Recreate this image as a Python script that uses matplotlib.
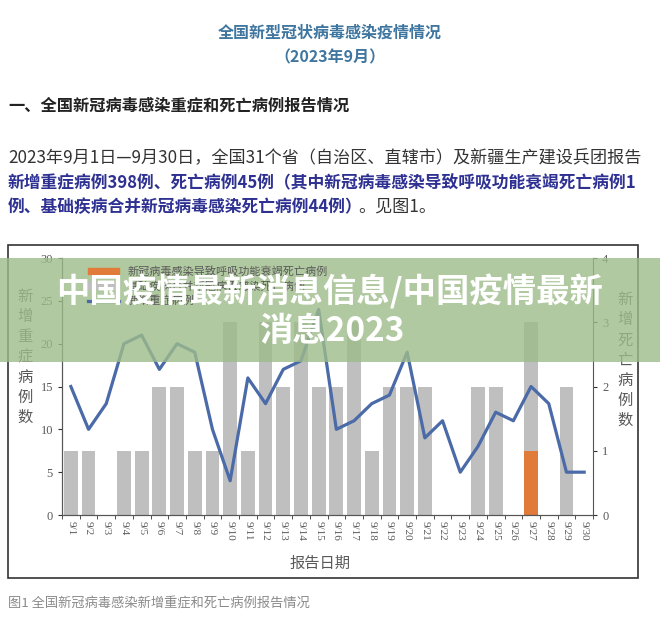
import matplotlib
matplotlib.use("Agg")
import matplotlib.pyplot as plt
from matplotlib.patches import Rectangle, Patch
from matplotlib.lines import Line2D
import numpy as np

plt.rcParams['font.family'] = ['Noto Sans CJK SC', 'DejaVu Sans']

# data
dates = ["9/%d" % d for d in range(1, 31)]
severe = [15, 10, 13, 20, 21, 17, 20, 19, 10, 4,
          16, 13, 17, 18, 24, 10, 11, 13, 14, 19,
          9, 11, 5, 8, 12, 11, 15, 13, 5, 5]
deaths_resp = [0] * 26 + [1] + [0] * 3
deaths_base = [1, 1, 0, 1, 1, 2, 2, 1, 1, 3,
               1, 3, 2, 3, 2, 2, 3, 1, 2, 2,
               2, 0, 0, 2, 2, 0, 2, 0, 2, 0]

W, H = 660, 621


def fx(x):
    return x / W


def fy(y):
    return 1 - y / H


fig = plt.figure(figsize=(6.6, 6.21), dpi=100)

# ---- document text ----
fig.text(fx(330), fy(33), "全国新型冠状病毒感染疫情情况", ha='center', va='center',
         fontsize=11.5, fontweight='bold', color='#3f76a0')
fig.text(fx(330), fy(57), "（2023年9月）", ha='center', va='center',
         fontsize=11.5, fontweight='bold', color='#3f76a0')
fig.text(fx(8), fy(105), "一、全国新冠病毒感染重症和死亡病例报告情况", ha='left', va='center',
         fontsize=11.7, fontweight='bold', color='#222222')
fig.text(fx(8), fy(158), "2023年9月1日—9月30日，全国31个省（自治区、直辖市）及新疆生产建设兵团报告",
         ha='left', va='center', fontsize=12.3, color='#333333')
fig.text(fx(8), fy(183), "新增重症病例398例、死亡病例45例（其中新冠病毒感染导致呼吸功能衰竭死亡病例1",
         ha='left', va='center', fontsize=12.05, fontweight='bold', color='#2e3192')
t3 = fig.text(fx(8), fy(207), "例、基础疾病合并新冠病毒感染死亡病例44例）",
              ha='left', va='center', fontsize=12.05, fontweight='bold', color='#2e3192')
fig.canvas.draw()
x_end = t3.get_window_extent(renderer=fig.canvas.get_renderer()).x1
fig.text(x_end / fig.bbox.width - fx(4), fy(207), "。见图1。", ha='left', va='center',
         fontsize=12.3, color='#333333')
fig.text(fx(8), fy(603), "图1 全国新冠病毒感染新增重症和死亡病例报告情况", ha='left', va='center',
         fontsize=9.5, color='#8a8a8a')

# chart frame
fig.add_artist(Rectangle((fx(8), fy(578)), 630 / W, 333 / H, fill=False,
                         edgecolor='#333333', lw=1.2, transform=fig.transFigure))

# ---- chart ----
ax = fig.add_axes([fx(62), fy(515), (593 - 62) / W, (515 - 258) / H])
ax2 = ax.twinx()
x = np.arange(len(dates))
gray = '#bfbfbf'
orange = '#e07b39'
blue = '#4a6aa8'
tick_col = '#595959'

ax2.bar(x, deaths_resp, width=0.78, color=orange)
ax2.bar(x, deaths_base, width=0.78, bottom=deaths_resp, color=gray)
ax.plot(x, severe, color=blue, lw=2.3)

ax.set_zorder(ax2.get_zorder() + 1)
ax.patch.set_visible(False)

ax.set_xlim(-0.5, 29.5)
ax.set_ylim(0, 30)
ax2.set_ylim(0, 4)
ax.set_yticks(range(0, 31, 5))
ax2.set_yticks(range(0, 5))
ax.set_xticks(x)
ax.set_xticklabels(dates, rotation=-90, fontsize=8, family='Liberation Serif', color=tick_col)
ax.set_xticks(np.arange(-0.5, 30, 1), minor=True)
ax.tick_params(axis='x', which='major', length=0, pad=4)
ax.tick_params(axis='x', which='minor', length=3, color='#333333')
ax.tick_params(axis='y', length=3, color='#333333', labelcolor=tick_col, labelsize=9)
ax2.tick_params(axis='y', length=3, color='#333333', labelcolor=tick_col, labelsize=9)
for lab in ax.get_yticklabels() + ax2.get_yticklabels():
    lab.set_family('Liberation Serif')

for a in (ax, ax2):
    a.spines['top'].set_visible(False)
    for s in ('left', 'right', 'bottom'):
        a.spines[s].set_color('#555555')
ax.spines['right'].set_visible(False)

fig.text(fx(25), fy(357), "\n".join("新增重症病例数"), ha='center', va='center',
         fontsize=11, color=tick_col, linespacing=1.25)
fig.text(fx(625), fy(360), "\n".join("新增死亡病例数"), ha='center', va='center',
         fontsize=11, color=tick_col, linespacing=1.25)
fig.text(fx(320), fy(563), "报告日期", ha='center', va='center', fontsize=11, color=tick_col)

handles = [Patch(color=orange), Patch(color=gray), Line2D([], [], color=blue, lw=2.3)]
labels = ["新冠病毒感染导致呼吸功能衰竭死亡病例", "基础疾病合并新冠病毒感染死亡病例", "新增重症病例"]
fig.legend(handles, labels, loc='upper left', bbox_to_anchor=(fx(78), fy(256)),
           frameon=False, fontsize=8, labelcolor=tick_col, handlelength=2.8,
           handleheight=0.5, labelspacing=0.35)

# ---- overlay banner ----
fig.add_artist(Rectangle((0, fy(362)), 1, 104 / H, facecolor='#9ebc8a', alpha=0.8,
                         edgecolor='none', transform=fig.transFigure, zorder=5))
fig.text(fx(330), fy(292), "中国疫情最新消息信息/中国疫情最新", ha='center', va='center',
         fontsize=24, fontweight='black', color='white', zorder=6)
fig.text(fx(332), fy(331), "消息2023", ha='center', va='center',
         fontsize=24, fontweight='black', color='white', zorder=6)

fig.savefig("out.png", dpi=100)
